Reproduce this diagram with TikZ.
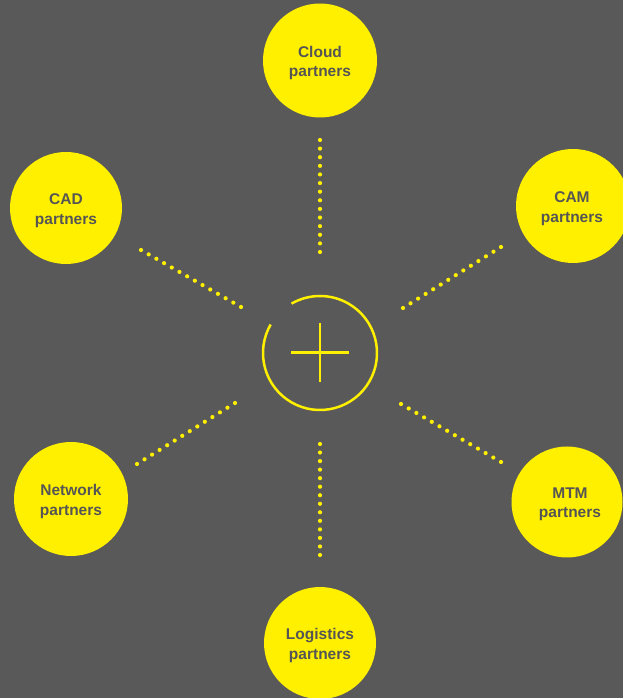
\documentclass[tikz,border=0pt]{standalone}
\usepackage{fontspec}
\setmainfont{Liberation Sans}
\usetikzlibrary{calc}
\definecolor{bg}{HTML}{595959}
\definecolor{yel}{HTML}{FFF000}
\definecolor{txt}{HTML}{555555}
\begin{document}
\begin{tikzpicture}[x=1pt,y=1pt,
  partner/.style={circle, fill=yel, draw=none, minimum size=114pt, inner sep=0pt},
  ptext/.style={text=txt, font=\fontsize{15.5}{19.5}\selectfont\bfseries, align=center, inner sep=0pt, yshift=-2.5pt},
  dotfill/.style={fill=yel}]
\fill[bg] (0,0) rectangle (623,698);
\useasboundingbox (0,0) rectangle (623,698);
% partner circles
\node[partner] (cloud) at (320,637.5) {};
\node[partner, minimum size=112pt] (cad) at (66,490) {};
\node[partner] (cam) at (573,492) {};
\node[partner] (net) at (71,199) {};
\node[partner, minimum size=111pt] (mtm) at (567,196) {};
\node[partner, minimum size=112pt] (log) at (320,55) {};
\node[ptext] (cloudt) at (cloud.center) {Cloud\\partners};
\node[ptext] (cadt) at (cad.center) {CAD\\partners};
\node[ptext] (camt) at ([xshift=-1pt]cam.center) {CAM\\partners};
\node[ptext] (nett) at (net.center) {Network\\partners};
\node[ptext] (mtmt) at ([xshift=3pt]mtm.center) {MTM\\partners};
\node[ptext] (logt) at (log.center) {Logistics\\partners};
% centre
\coordinate (c) at (320,345);
\draw[yel, line width=2.5pt] (c) ++(150:57) arc[start angle=150, end angle=480, radius=57];
\node[coordinate] (hl) at (291,345.5) {};
\node[coordinate] (hr) at (349,345.5) {};
\node[coordinate] (vt) at (320,375) {};
\node[coordinate] (vb) at (320,316) {};
\draw[yel, line width=2.5pt] (hl) -- (hr);
\draw[yel, line width=2.5pt] (vt) -- (vb);
% dotted connectors (end points)
\coordinate (t1) at (320,558); \coordinate (t2) at (320,446);
\coordinate (ul1) at (141,448); \coordinate (ul2) at (241,391);
\coordinate (ur1) at (501,451); \coordinate (ur2) at (403,390);
\coordinate (ll1) at (137,234); \coordinate (ll2) at (235,295);
\coordinate (lr1) at (501,236); \coordinate (lr2) at (401,294);
\coordinate (b1) at (320,143); \coordinate (b2) at (320,254);
\foreach \a/\b in {t1/t2, ul1/ul2, ur1/ur2, ll1/ll2, lr1/lr2, b1/b2}{
  \foreach \i in {0,...,13}{
    \fill[dotfill] ($(\a)!\i/13!(\b)$) circle (2.1pt);
  }
}
\end{tikzpicture}
\end{document}
